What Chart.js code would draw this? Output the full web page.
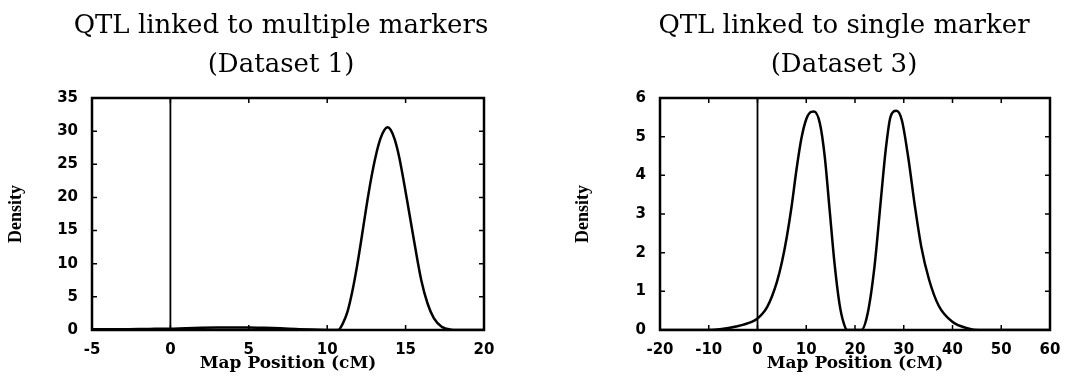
<!DOCTYPE html>
<html>
<head>
<meta charset="utf-8">
<script src="https://cdn.jsdelivr.net/npm/chart.js@4"></script>
<style>
body { margin: 0; background: #fff; width: 1086px; height: 378px; overflow: hidden; }
.panel { position: absolute; top: 0; width: 543px; height: 378px; }
</style>
</head>
<body>
<div class="panel" style="left:0"><canvas id="c1" width="543" height="378"></canvas></div>
<div class="panel" style="left:543px"><canvas id="c2" width="543" height="378"></canvas></div>
<script>
// Dataset 1 : QTL linked to multiple markers
var pos1 = [-5, -4, -3, -2, -1, 0, 1, 2, 3, 4, 5, 6, 7, 8, 9, 10, 10.7, 11.0, 11.3, 11.6, 11.9, 12.2, 12.5, 12.8, 13.1, 13.4, 13.65, 13.85, 14.05, 14.3, 14.6, 15.1, 15.5, 16.0, 16.4, 16.8, 17.3, 17.9, 18.3, 20];
var dens1 = [0.1, 0.1, 0.12, 0.14, 0.17, 0.2, 0.28, 0.33, 0.36, 0.38, 0.38, 0.33, 0.25, 0.15, 0.06, 0.01, 0, 1.0, 2.8, 5.8, 9.6, 14, 18.6, 22.8, 26.3, 28.9, 30.2, 30.6, 30.2, 28.8, 26, 19.5, 14, 7.5, 4, 1.8, 0.5, 0.05, 0, 0];
var xTicks1 = [-5, 0, 5, 10, 15, 20];
var yTicks1 = [0, 5, 10, 15, 20, 25, 30, 35];

// Dataset 3 : QTL linked to single marker
var pos3 = [-20, -10, -7.7, -4.4, -1.2, 0, 1, 2, 3, 4, 5, 6, 7, 8, 9, 10, 11, 11.6, 12.8, 13.8, 14.8, 15.8, 16.8, 17.7, 18.4, 21.3, 22.6, 24.0, 25.3, 26.3, 27.3, 28.5, 29.6, 30.9, 32.3, 33.6, 35.2, 37.2, 39.9, 43.2, 45.5, 60];
var dens3 = [0, 0, 0.02, 0.09, 0.21, 0.30, 0.42, 0.6, 0.88, 1.25, 1.75, 2.4, 3.2, 4.15, 4.95, 5.45, 5.64, 5.65, 5.34, 4.48, 3.1, 1.72, 0.69, 0.17, 0, 0, 0.43, 1.64, 3.36, 4.66, 5.52, 5.67, 5.43, 4.48, 3.19, 2.15, 1.3, 0.62, 0.22, 0.04, 0, 0];
var xTicks3 = [-20, -10, 0, 10, 20, 30, 40, 50, 60];
var yTicks3 = [0, 1, 2, 3, 4, 5, 6];

var titles1 = ['QTL linked to multiple markers', '(Dataset 1)'];
var titles3 = ['QTL linked to single marker', '(Dataset 3)'];

// box round the plot, inward tick marks on all four sides, and the two line title
var frame = {
  id: 'frame',
  afterDraw: function(chart, args, opts) {
    var ctx = chart.ctx, a = chart.chartArea, sx = chart.scales.x, sy = chart.scales.y;
    ctx.save();
    ctx.strokeStyle = '#000';
    ctx.lineWidth = 2.5;
    ctx.strokeRect(a.left, a.top, a.right - a.left, a.bottom - a.top);
    ctx.lineWidth = 1.5;
    ctx.beginPath();
    sx.ticks.forEach(function(t) {
      var p = sx.getPixelForValue(t.value);
      ctx.moveTo(p, a.bottom); ctx.lineTo(p, a.bottom - 5);
      ctx.moveTo(p, a.top); ctx.lineTo(p, a.top + 5);
    });
    sy.ticks.forEach(function(t) {
      var p = sy.getPixelForValue(t.value);
      ctx.moveTo(a.left, p); ctx.lineTo(a.left + 5, p);
      ctx.moveTo(a.right, p); ctx.lineTo(a.right - 5, p);
    });
    ctx.stroke();
    ctx.fillStyle = '#000';
    ctx.font = '26px "DejaVu Serif"';
    ctx.textAlign = 'center';
    ctx.textBaseline = 'alphabetic';
    ctx.fillText(opts.lines[0], opts.cx, 33);
    ctx.fillText(opts.lines[1], opts.cx, 72);
    ctx.restore();
  }
};

function makeChart(id, xs, ys, xt, yt, lines, cx, padRight, yWidth, yTitlePad) {
  var pts = xs.map(function(x, i) { return {x: x, y: ys[i]}; });
  var yMax = yt[yt.length - 1];
  return new Chart(document.getElementById(id), {
    type: 'line',
    data: {
      datasets: [
        { data: pts, borderColor: '#000', borderWidth: 2.5, pointRadius: 0, cubicInterpolationMode: 'monotone', fill: false },
        { data: [{x: 0, y: 0}, {x: 0, y: yMax}], borderColor: '#000', borderWidth: 1.8, pointRadius: 0, fill: false }
      ]
    },
    options: {
      responsive: false,
      animation: false,
      layout: { padding: { top: 98, right: padRight, left: 0, bottom: 0 } },
      plugins: {
        legend: { display: false },
        tooltip: { enabled: false },
        frame: { lines: lines, cx: cx }
      },
      scales: {
        x: {
          type: 'linear',
          min: xt[0], max: xt[xt.length - 1],
          grid: { display: false, drawTicks: false },
          border: { display: false },
          afterBuildTicks: function(s) { s.ticks = xt.map(function(v) { return {value: v}; }); },
          afterFit: function(s) { s.height = 48; },
          ticks: { autoSkip: false, maxRotation: 0, padding: 11, color: '#000', font: { family: 'DejaVu Sans', weight: 'bold', size: 15 } },
          title: { display: true, text: 'Map Position (cM)', color: '#000', padding: { top: 4, bottom: 4 }, font: { family: 'DejaVu Serif', weight: 'bold', size: 17 } }
        },
        y: {
          min: yt[0], max: yMax,
          grid: { display: false, drawTicks: false },
          border: { display: false },
          afterBuildTicks: function(s) { s.ticks = yt.map(function(v) { return {value: v}; }); },
          afterFit: function(s) { s.width = yWidth; },
          ticks: { padding: 14, color: '#000', font: { family: 'DejaVu Sans', weight: 'bold', size: 15 } },
          title: { display: true, text: 'Density', color: '#000', padding: { top: yTitlePad, bottom: yTitlePad }, font: { family: '"Liberation Sans Narrow", "Liberation Serif"', weight: 'bold', size: 18 } }
        }
      }
    },
    plugins: [frame]
  });
}

makeChart('c1', pos1, dens1, xTicks1, yTicks1, titles1, 281, 59, 92, 6);
makeChart('c2', pos3, dens3, xTicks3, yTicks3, titles3, 301, 36, 117, 30);
</script>
</body>
</html>
